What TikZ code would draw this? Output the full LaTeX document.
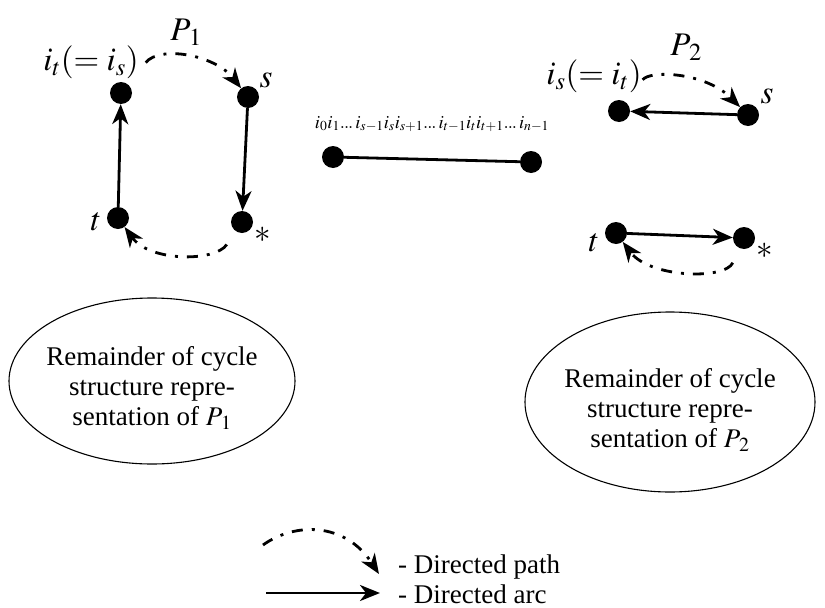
\documentclass[tikz,border=0pt]{standalone}
\usepackage{mathptmx}
\usepackage{fontspec}
\setmainfont{Liberation Serif}
\newfontfamily\tnr{Liberation Serif}
\usetikzlibrary{arrows.meta,shapes.geometric}
\newcommand{\tdots}{{.}\mkern-1mu{.}\mkern-1mu{.}\,}
\begin{document}
\begin{tikzpicture}[x=1pt,y=-1pt,
  dot/.style={circle,fill=black,inner sep=0pt,minimum size=22pt},
  arcline/.style={line width=2.8pt,-{Stealth[length=20pt,width=16pt,inset=6pt]}},
  dpath/.style={line width=2.8pt,dash pattern=on 11pt off 9pt on 3pt off 9pt,-{Stealth[length=20pt,width=16pt,inset=6pt]}},
  lbl/.style={font=\fontsize{33}{35}\selectfont,inner sep=0pt},
  txt/.style={font=\tnr\fontsize{27}{30}\selectfont,align=center},
  blob/.style={draw,ellipse,line width=1.1pt,inner sep=0pt}]
\useasboundingbox (0,0) rectangle (825,608);
% left group
\node[dot] (it) at (121,93) {};
\node[dot] (s1) at (248,97) {};
\node[dot] (t1) at (118,218) {};
\node[dot] (st1) at (242,222) {};
\node[lbl] (itl) at (91,62) {$i_t(=i_s)$};
\node[lbl] (p1) at (186,32) {$P_{\,1}$};
\node[lbl] (s1l) at (266,80) {$s$};
\node[lbl] (t1l) at (96,222) {$t$};
\node[lbl] (st1l) at (263,235) {$*$};
\draw[arcline] (t1) -- (it);
\draw[arcline] (s1) -- (st1);
\draw[dpath,shorten <=28pt] (it) .. controls (160,45) and (215,55) .. (s1);
\draw[dpath,shorten <=16pt] (st1) .. controls (215,262) and (150,262) .. (t1);
% middle
\node[dot] (m1) at (333,157) {};
\node[dot] (m2) at (531,162) {};
\node[font=\fontsize{18.5}{20}\selectfont,inner sep=0pt] (ml) at (432,124) {$i_0i_1\tdots i_{s-1}i_si_{s+1}\tdots i_{t-1}i_ti_{t+1}\tdots i_{n-1}$};
\draw[line width=2.8pt] (m1) -- (m2);
% right group
\node[dot] (is2) at (619,111) {};
\node[dot] (s2) at (748,115) {};
\node[dot] (t2) at (616,233) {};
\node[dot] (st2) at (744,238) {};
\node[lbl] (isl) at (594,76) {$i_s(=i_t)$};
\node[lbl] (p2) at (686,47) {$P_{\,2}$};
\node[lbl] (s2l) at (767,96) {$s$};
\node[lbl] (t2l) at (594,243) {$t$};
\node[lbl] (st2l) at (765,251) {$*$};
\draw[arcline] (s2) -- (is2);
\draw[arcline] (t2) -- (st2);
\draw[dpath,shorten <=28pt] (is2) .. controls (650,70) and (705,72) .. (s2);
\draw[dpath,shorten <=16pt] (st2) .. controls (725,280) and (650,278) .. (t2);
% ellipses
\node[blob,minimum width=286pt,minimum height=166pt] (r1) at (152,381) {};
\node[txt] (r1t) at (152,388) {Remainder of cycle\\structure repre-\\sentation of $P_{\,1}$};
\node[blob,minimum width=290pt,minimum height=180pt] (r2) at (670,402) {};
\node[txt] (r2t) at (670,410) {Remainder of cycle\\structure repre-\\sentation of $P_{\,2}$};
% legend
\coordinate (lp1) at (263,545);
\coordinate (lp2) at (379,574);
\draw[dpath] (lp1) .. controls (295,522) and (345,522) .. (lp2);
\coordinate (la1) at (266,593);
\coordinate (la2) at (380,593);
\draw[arcline] (la1) -- (la2);
\node[txt,anchor=base west,inner sep=0pt] (lt1) at (398,573) {- Directed path};
\node[txt,anchor=base west,inner sep=0pt] (lt2) at (398,603) {- Directed arc};
\end{tikzpicture}
\end{document}
